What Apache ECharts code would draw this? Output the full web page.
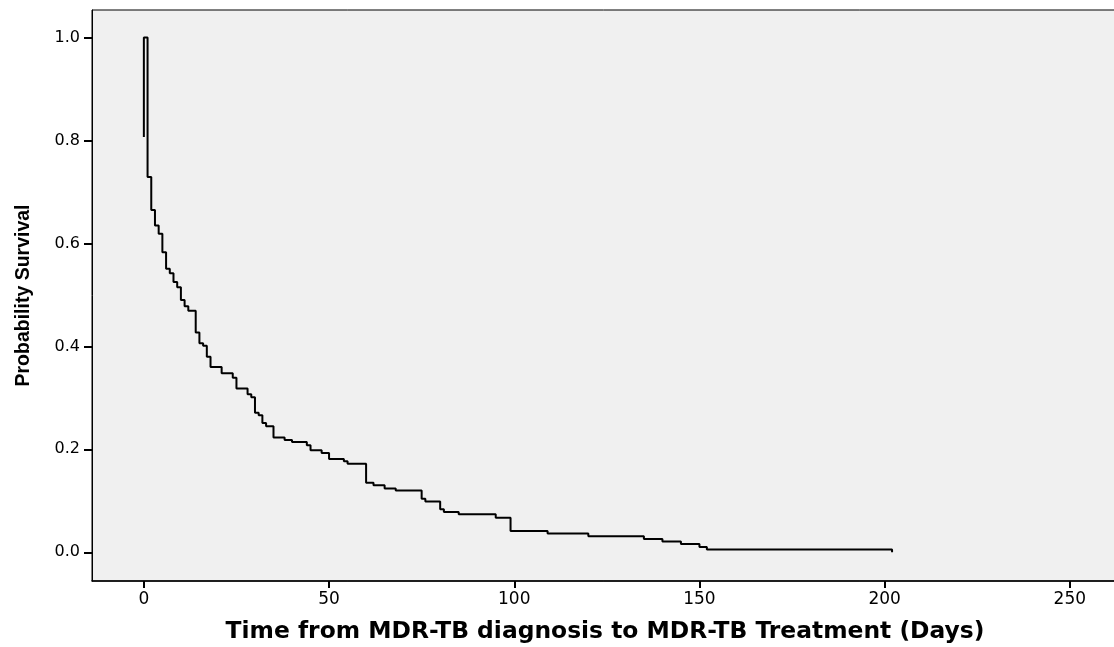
<!DOCTYPE html>
<html>
<head>
<meta charset="utf-8">
<script src="https://cdn.jsdelivr.net/npm/echarts@6/dist/echarts.min.js"></script>
<style>
    html, body { margin: 0; padding: 0; background: #fff; }
    #chart { width: 1114px; height: 647px; }
</style>
</head>
<body>
<div id="chart"></div>
<script>
    // Kaplan-Meier steps (time in days, survival after the step)
    var days = [0, 0, 1, 2, 3, 4, 5, 6, 7, 8, 9, 10, 11, 12, 14, 15, 16, 17, 18, 21,
        24, 25, 28, 29, 30, 31, 32, 33, 35, 38, 40, 44, 45, 48, 50, 54, 55, 60, 62, 65,
        68, 75, 76, 80, 81, 85, 95, 99, 109, 120, 135, 140, 145, 150, 152, 202];
    var survival = [0.807, 1.0, 0.729, 0.665, 0.635, 0.619, 0.583, 0.551, 0.542, 0.525,
        0.515, 0.490, 0.478, 0.469, 0.427, 0.406, 0.401, 0.380, 0.360, 0.348,
        0.339, 0.318, 0.307, 0.301, 0.271, 0.266, 0.251, 0.245, 0.223, 0.218,
        0.214, 0.208, 0.198, 0.193, 0.181, 0.177, 0.172, 0.135, 0.130, 0.124,
        0.120, 0.104, 0.0985, 0.0836, 0.0783, 0.0739, 0.067, 0.0414, 0.0363, 0.0311,
        0.0259, 0.0208, 0.0161, 0.0103, 0.0052, 0];
    var xTicks = [0, 50, 100, 150, 200, 250];
    var yTicks = [0, 0.2, 0.4, 0.6, 0.8, 1.0];

    var points = days.map(function (d, i) { return [d, survival[i]]; });

    var myChart = echarts.init(document.getElementById('chart'));
    var option = {
        animation: false,
        backgroundColor: '#ffffff',
        grid: {
            left: 92,
            right: -4,
            top: 10,
            bottom: 66,
            outerBoundsMode: 'none',
            show: true,
            backgroundColor: '#f0f0f0',
            borderColor: '#000',
            borderWidth: 1
        },
        xAxis: {
            type: 'value',
            min: -14,
            max: 263,
            name: 'Time from MDR-TB diagnosis to MDR-TB Treatment (Days)',
            nameLocation: 'middle',
            nameGap: 39,
            nameTextStyle: {
                color: '#000',
                fontFamily: 'DejaVu Sans',
                fontWeight: 'bold',
                fontSize: 23.4
            },
            splitLine: { show: false },
            axisLine: { show: true, onZero: false, lineStyle: { color: '#000', width: 1.5 } },
            axisTick: {
                show: true,
                length: 7,
                customValues: xTicks,
                lineStyle: { color: '#000', width: 2 }
            },
            axisLabel: {
                customValues: xTicks,
                margin: 10,
                color: '#000',
                fontFamily: 'DejaVu Sans',
                fontSize: 17
            }
        },
        yAxis: {
            type: 'value',
            min: -0.0558,
            max: 1.0535,
            name: 'Probability Survival',
            nameLocation: 'middle',
            nameGap: 58,
            nameTextStyle: {
                color: '#000',
                fontFamily: "'Liberation Sans', Arial",
                fontWeight: 'bold',
                fontSize: 19.5
            },
            splitLine: { show: false },
            axisLine: { show: true, onZero: false, lineStyle: { color: '#000', width: 1 } },
            axisTick: {
                show: true,
                length: 8,
                customValues: yTicks,
                lineStyle: { color: '#000', width: 2 }
            },
            axisLabel: {
                customValues: yTicks,
                margin: 12,
                color: '#000',
                fontFamily: 'DejaVu Sans',
                fontSize: 16,
                formatter: function (v) { return v.toFixed(1); }
            }
        },
        series: [{
            name: 'Survival',
            type: 'line',
            step: 'end',
            symbol: 'none',
            lineStyle: { color: '#000', width: 2 },
            data: points
        }]
    };
    myChart.setOption(option);
</script>
</body>
</html>
